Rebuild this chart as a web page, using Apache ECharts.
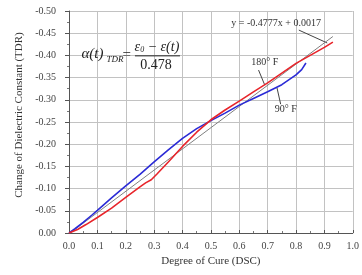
<!DOCTYPE html>
<html><head><meta charset="utf-8">
<script src="https://cdn.jsdelivr.net/npm/echarts@6/dist/echarts.min.js"></script>
<style>html,body{margin:0;padding:0;background:#fff}#c{width:362px;height:275px}</style>
</head><body><div id="c"></div>
<script>
// Data
const xTicks = [0,0.1,0.2,0.3,0.4,0.5,0.6,0.7,0.8,0.9,1.0];
const yTicks = [-0.50,-0.45,-0.40,-0.35,-0.30,-0.25,-0.20,-0.15,-0.10,-0.05,0.00];
const redX = [0,0.03,0.06,0.10,0.15,0.20,0.25,0.27,0.29,0.31,0.35,0.40,0.45,0.50,0.55,0.60,0.65,0.70,0.75,0.80,0.85,0.90,0.93];
const redY = [0,-0.008,-0.019,-0.035,-0.056,-0.080,-0.104,-0.113,-0.120,-0.133,-0.160,-0.195,-0.227,-0.255,-0.277,-0.297,-0.318,-0.338,-0.360,-0.382,-0.400,-0.418,-0.430];
const blueX = [0,0.02,0.05,0.08,0.10,0.15,0.20,0.25,0.30,0.35,0.40,0.45,0.50,0.55,0.60,0.65,0.70,0.75,0.80,0.82,0.835];
const blueY = [0,-0.009,-0.024,-0.040,-0.051,-0.079,-0.106,-0.132,-0.160,-0.187,-0.213,-0.235,-0.253,-0.270,-0.288,-0.303,-0.318,-0.334,-0.356,-0.368,-0.383];
const fitX = [0.005,0.93];
const fitSlope = -0.4777, fitIntercept = 0.0017;
const fitY = [fitSlope*fitX[0]+fitIntercept, fitSlope*fitX[1]+fitIntercept];

const zip = (a,b)=>a.map((v,i)=>[v,b[i]]);
const chart = echarts.init(document.getElementById('c'));
const serif = '"Liberation Serif","DejaVu Serif",serif';
chart.setOption({
  animation:false,
  backgroundColor:'#fff',
  grid:{left:69,right:-2,top:11,bottom:42,containLabel:false},
  xAxis:{type:'value',min:0,max:1,interval:0.1,
    name:'Degree of Cure (DSC)',nameLocation:'middle',nameGap:18,
    nameTextStyle:{fontFamily:serif,fontSize:11,color:'#333'},
    axisLine:{lineStyle:{color:'#555',width:1}},
    axisTick:{inside:true,length:3,lineStyle:{color:'#555'}},
    minorTick:{show:true,splitNumber:2,length:2,lineStyle:{color:'#777'}},
    axisLabel:{fontFamily:serif,fontSize:10,color:'#444',margin:8,formatter:v=>v.toFixed(1)},
    splitLine:{show:true,lineStyle:{color:'#c2c2c2',width:1}}},
  yAxis:{type:'value',min:-0.5,max:0,interval:0.05,inverse:true,
    name:'Change of Dielectric Constant (TDR)',nameLocation:'middle',nameGap:44,
    nameTextStyle:{fontFamily:serif,fontSize:11,color:'#333',padding:[0,0,0,14]},
    axisLine:{show:true,lineStyle:{color:'#555',width:1}},
    axisTick:{show:true,length:4,lineStyle:{color:'#555'}},
    minorTick:{show:true,splitNumber:2,length:2,lineStyle:{color:'#777'}},
    axisLabel:{fontFamily:serif,fontSize:10,color:'#444',margin:13,formatter:v=>v.toFixed(2)},
    splitLine:{show:true,lineStyle:{color:'#c2c2c2',width:1}}},
  series:[
    {name:'fit',type:'line',data:zip(fitX,fitY),showSymbol:false,lineStyle:{color:'#808080',width:1},z:3},
    {name:'90° F',type:'line',data:zip(blueX,blueY),showSymbol:false,lineStyle:{color:'#2b2bd6',width:1.6},z:4},
    {name:'180° F',type:'line',data:zip(redX,redY),showSymbol:false,lineStyle:{color:'#e8252b',width:1.6},z:5}
  ]
});
const P = (x,y)=>chart.convertToPixel({gridIndex:0},[x,y]);
const fontIt = 'italic 15px "Liberation Serif"';
const a0 = P(0.044,-0.399);
const fr = P(0.31,-0.399);
const lbl = P(0.73,-0.473);
const l180 = P(0.69,-0.385);
const l90 = P(0.764,-0.278);
const g = [];
g.push({type:'text',left:a0[0],top:a0[1]-9,style:{text:'α(t)',font:fontIt,fill:'#222'}});
g.push({type:'text',left:a0[0]+25,top:a0[1]-1,style:{text:'TDR',font:'italic 9px "Liberation Serif"',fill:'#222'}});
g.push({type:'text',left:a0[0]+41,top:a0[1]-8,style:{text:'=',font:'15px "Liberation Serif"',fill:'#222'}});
g.push({type:'text',x:fr[0],y:fr[1]-9,style:{text:'{i|ε}{s|0}{i| − ε(t)}',align:'center',verticalAlign:'middle',fill:'#222',
  rich:{i:{font:'italic 14px "Liberation Serif"',fill:'#222'},s:{font:'italic 8px "Liberation Serif"',fill:'#222',padding:[6,0,0,0]}}}});
g.push({type:'line',shape:{x1:fr[0]-22,y1:fr[1],x2:fr[0]+23,y2:fr[1]},style:{stroke:'#222',lineWidth:1}});
g.push({type:'text',x:fr[0]-1,y:fr[1]+9,style:{text:'0.478',font:'14px "Liberation Serif"',fill:'#222',align:'center',verticalAlign:'middle'}});
g.push({type:'text',x:lbl[0],y:lbl[1],style:{text:'y = -0.4777x + 0.0017',font:'10px "Liberation Serif"',fill:'#333',align:'center',verticalAlign:'middle'}});
const la = P(0.81,-0.457), lb = P(0.91,-0.428);
g.push({type:'line',shape:{x1:la[0],y1:la[1],x2:lb[0],y2:lb[1]},style:{stroke:'#444',lineWidth:1}});
g.push({type:'text',x:l180[0],y:l180[1],style:{text:'180° F',font:'10px "Liberation Serif"',fill:'#333',align:'center',verticalAlign:'middle'}});
const ra = P(0.668,-0.367), rb = P(0.69,-0.333);
g.push({type:'line',shape:{x1:ra[0],y1:ra[1],x2:rb[0],y2:rb[1]},style:{stroke:'#444',lineWidth:1}});
g.push({type:'text',x:l90[0],y:l90[1],style:{text:'90° F',font:'10px "Liberation Serif"',fill:'#333',align:'center',verticalAlign:'middle'}});
const ba = P(0.746,-0.29), bb = P(0.733,-0.327);
g.push({type:'line',shape:{x1:ba[0],y1:ba[1],x2:bb[0],y2:bb[1]},style:{stroke:'#444',lineWidth:1}});
chart.setOption({graphic:g});
</script></body></html>
